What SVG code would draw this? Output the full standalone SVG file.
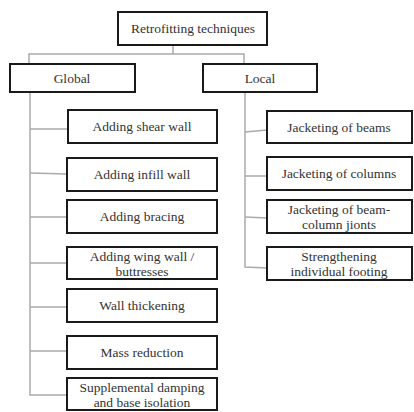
<svg xmlns="http://www.w3.org/2000/svg" width="414" height="412" viewBox="0 0 414 412">
<style>
.box{fill:#fff;stroke:#1a1a1a;stroke-width:2}
.t{font-family:"Liberation Serif","Times New Roman",serif;font-size:13.5px;fill:#333;text-anchor:middle}
.c{fill:none;stroke:#aaa;stroke-width:1.5}
</style>
<rect width="414" height="412" fill="#fff"/>
<g id="connectors">
<polyline class="c" points="173,45 173,54"/>
<polyline class="c" points="29,64 29,54 244,54 244,64"/>
<polyline class="c" points="30,92 30,395 67,395"/>
<line class="c" x1="30" y1="129" x2="68" y2="129"/>
<line class="c" x1="30" y1="173" x2="67" y2="174"/>
<line class="c" x1="30" y1="217" x2="67" y2="217"/>
<line class="c" x1="30" y1="263" x2="67" y2="263"/>
<line class="c" x1="30" y1="307" x2="67" y2="307"/>
<line class="c" x1="30" y1="351" x2="67" y2="351"/>
<polyline class="c" points="245,92 245,267 267,268"/>
<line class="c" x1="245" y1="132" x2="267" y2="130"/>
<line class="c" x1="245" y1="176" x2="267" y2="176"/>
<line class="c" x1="245" y1="217" x2="267" y2="218"/>
</g>
<g id="root"><rect class="box" x="118" y="12" width="149" height="33"/><text class="t" x="193" y="33">Retrofitting techniques</text></g>
<g id="global"><rect class="box" x="10" y="64" width="125" height="28"/><text class="t" x="72" y="83">Global</text></g>
<g id="local"><rect class="box" x="203" y="64" width="114" height="28"/><text class="t" x="260" y="83">Local</text></g>
<g id="shear"><rect class="box" x="68" y="110" width="149" height="33"/><text class="t" x="142" y="131">Adding shear wall</text></g>
<g id="infill"><rect class="box" x="67" y="158" width="150" height="33"/><text class="t" x="142" y="179">Adding infill wall</text></g>
<g id="bracing"><rect class="box" x="67" y="200" width="150" height="33"/><text class="t" x="142" y="221">Adding bracing</text></g>
<g id="wing"><rect class="box" x="67" y="247" width="150" height="32"/><text class="t" x="142" y="261">Adding wing wall /</text><text class="t" x="142" y="276">buttresses</text></g>
<g id="thick"><rect class="box" x="67" y="289" width="150" height="33"/><text class="t" x="142" y="310">Wall thickening</text></g>
<g id="mass"><rect class="box" x="67" y="336" width="150" height="33"/><text class="t" x="142" y="357">Mass reduction</text></g>
<g id="damping"><rect class="box" x="67" y="378" width="150" height="32"/><text class="t" x="142" y="392">Supplemental damping</text><text class="t" x="142" y="407">and base isolation</text></g>
<g id="beams"><rect class="box" x="267" y="111" width="145" height="32"/><text class="t" x="339" y="132">Jacketing of beams</text></g>
<g id="columns"><rect class="box" x="267" y="157" width="145" height="33"/><text class="t" x="339" y="178">Jacketing of columns</text></g>
<g id="beamcol"><rect class="box" x="267" y="200" width="145" height="33"/><text class="t" x="339" y="214">Jacketing of beam-</text><text class="t" x="339" y="229">column jionts</text></g>
<g id="footing"><rect class="box" x="267" y="247" width="145" height="33"/><text class="t" x="339" y="261">Strengthening</text><text class="t" x="339" y="276">individual footing</text></g>
</svg>
